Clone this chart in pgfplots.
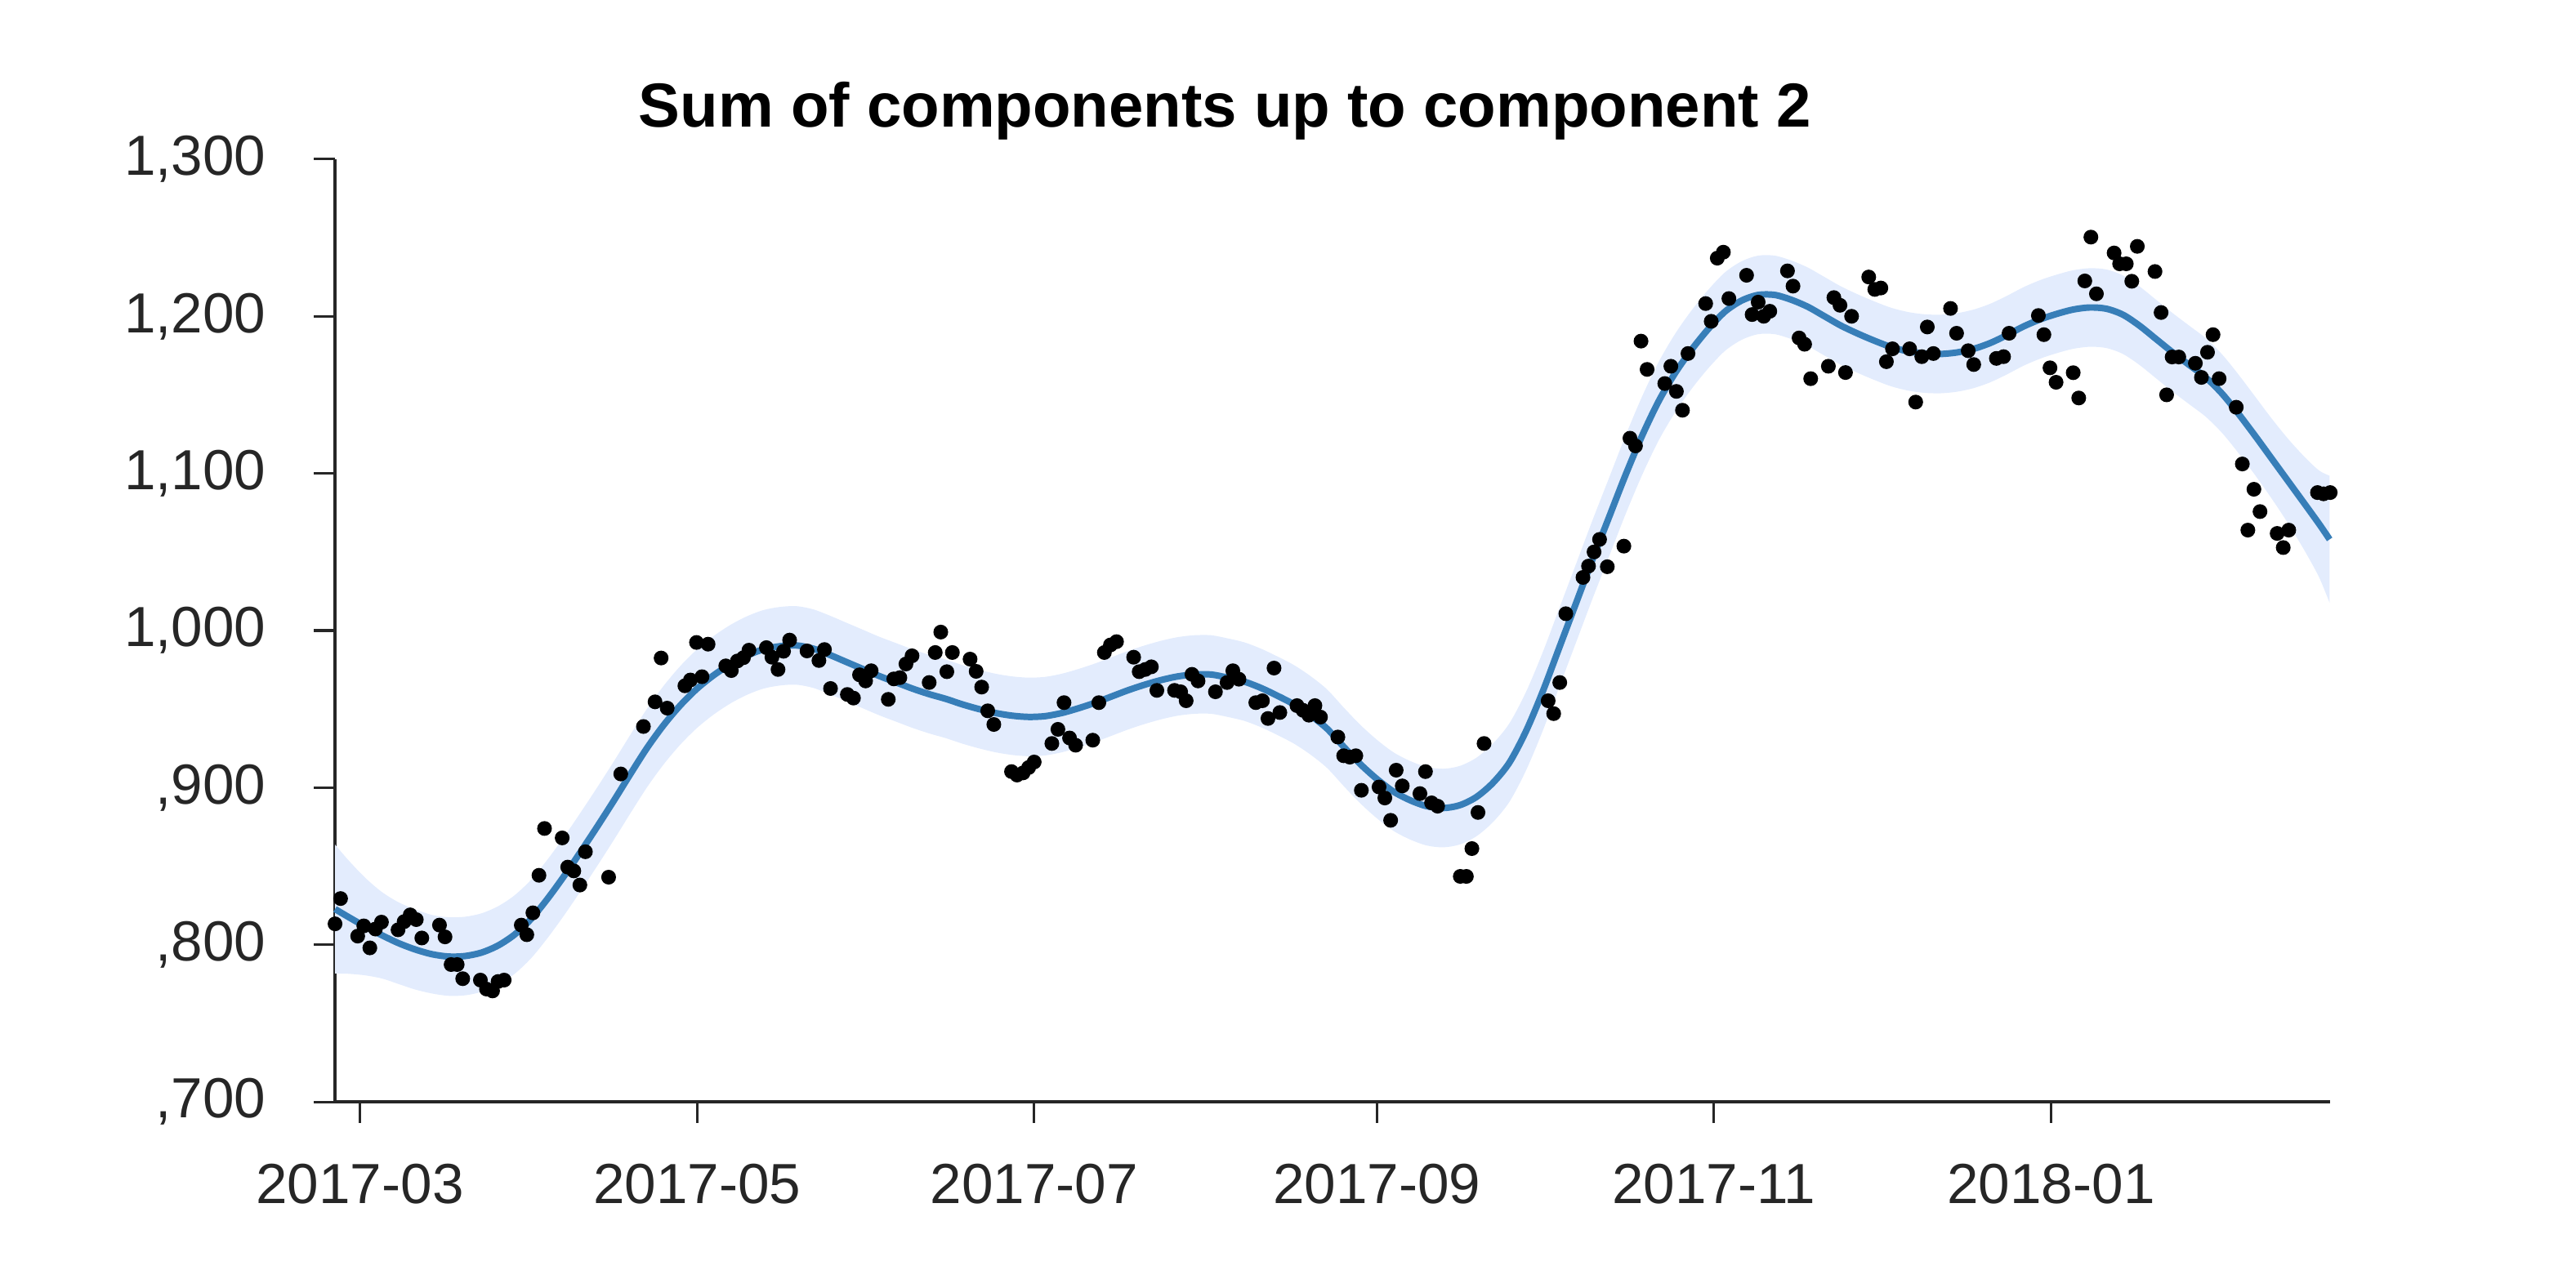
\documentclass[border=0pt]{standalone}
\usepackage{fontspec}
\setmainfont{Liberation Sans}
\usepackage{pgfplots}
\usepackage{pgfplotstable}
\pgfplotsset{compat=1.18}
\usepgfplotslibrary{fillbetween}
\definecolor{bandcol}{RGB}{227,236,253}
\definecolor{linecol}{RGB}{55,126,184}
\definecolor{txt}{RGB}{38,38,38}

\pgfplotstableread{
d yhat lo up
54.5 822.7 781.7 863.7
57 817.5 781.5 853.5
60 811.5 780.5 842.5
63 806 778.5 833.5
66 801 775 827
69 797 771.5 822.5
72 794 769 819
75 792.5 767.5 817.5
78 792.8 767.8 817.8
81 795 770 820
84 799.5 774.5 824.5
87 806.5 781.5 831.5
90 816.5 791.5 841.5
93 829.5 804.5 854.5
96 844 819 869
99 859.5 834.5 884.5
102 875.5 850.5 900.5
105 892 867 917
108 909 884 934
111 925.5 900.5 950.5
114 940 915 965
117 952.5 927.5 977.5
120 963 938 988
123 971.5 946.5 996.5
126 978.5 953.5 1003.5
129 984 959 1009
132 988 963 1013
135 990 965 1015
138 990.5 965.5 1015.5
141 988.5 963.5 1013.5
144 984.5 959.5 1009.5
147 980 955 1005
150 975.5 950.5 1000.5
153 971 946 996
156 967 942 992
159 963 938 988
162 959.5 934.5 984.5
165 956.5 931.5 981.5
168 953 928 978
171 950 925 975
174 947.5 922.5 972.5
177 945.8 920.8 970.8
180 945 920 970
183 945.5 920.5 970.5
186 947.5 922.5 972.5
189 950.5 925.5 975.5
192 954 929 979
195 958 933 983
198 962 937 987
201 965.5 940.5 990.5
204 968.5 943.5 993.5
207 970.8 945.8 995.8
210 972 947 997
213 972 947 997
216 970 945 995
219 967.5 942.5 992.5
222 963.5 938.5 988.5
225 958.5 933.5 983.5
228 953 928 978
231 946 921 971
234 937.5 912.5 962.5
237 926 901 951
240 915 890 940
243 905.5 880.5 930.5
246 897.5 872.5 922.5
249 892 867 917
252 888.2 863.2 913.2
255 887 862 912
258 888.8 863.8 913.8
261 894 869 919
264 903 878 928
267 916 891 941
270 936 911 961
273 961 936 986
276 989 964 1014
279 1017 992 1042
282 1045 1020 1070
285 1072 1047 1097
288 1099 1074 1124
291 1124 1099 1149
294 1146 1121 1171
297 1164 1139 1189
300 1179 1154 1204
303 1192 1167 1217
306 1203 1178 1228
309 1210 1185 1235
312 1213.6 1188.6 1238.6
315 1213.6 1188.6 1238.6
318 1210.5 1185.5 1235.5
321 1206 1181 1231
324 1200 1175 1225
327 1194 1169 1219
330 1189 1164 1214
333 1184.5 1159.5 1209.5
336 1180.5 1155.5 1205.5
339 1177.8 1152.8 1202.8
342 1176.3 1151.3 1201.3
345 1176 1151 1201
348 1177 1152 1202
351 1179.3 1154.3 1204.3
354 1183 1158 1208
357 1188 1163 1213
360 1193.5 1168.5 1218.5
363 1198 1173 1223
366 1201.5 1176.5 1226.5
369 1204.3 1179.3 1229.3
372 1205.6 1180.6 1230.6
375 1204.8 1179.8 1229.8
378 1201 1176 1226
381 1194 1169 1219
384 1185.5 1160.5 1210.5
387 1177 1152 1202
390 1169 1144 1194
393 1161 1136 1186
396 1150.5 1125.5 1175.5
399 1137.5 1112.5 1162.5
402 1123.5 1098.5 1148.5
405 1109 1083.5 1134.5
408 1094.5 1067.5 1121.5
411 1080 1050 1110
413.5 1067.8 1033.8 1101.8
415.4 1058 1017.5 1098.5
}\trend

\pgfplotstableread{
d v
54.5 813.3
55.5 829.4
58.6 805.5
59.7 812.0
60.8 798.0
61.8 810.0
62.9 814.4
65.9 809.5
67.0 814.7
68.1 819.0
69.2 816.0
70.2 804.3
73.4 812.5
74.4 805.0
75.5 787.4
76.6 787.4
77.6 778.4
80.8 777.5
81.9 771.8
83.0 770.6
84.0 776.6
85.1 777.5
88.2 812.5
89.2 806.4
90.3 820.3
91.4 844.2
92.4 874.0
95.6 868.0
96.6 849.4
97.7 847.0
98.8 838.0
99.8 859.2
104.0 843.0
106.2 908.7
110.3 938.9
112.4 954.6
113.5 982.5
114.6 950.6
117.8 964.8
118.8 968.5
119.9 992.4
120.9 970.6
122.0 991.3
125.2 977.5
126.2 974.5
127.3 980.6
128.4 982.7
129.4 987.5
132.55 989.1
133.55 983.0
134.65 975.2
135.65 986.8
136.75 993.9
139.9 987.0
142.05 980.9
143.05 987.9
144.15 963.1
147.2 959.3
148.3 957.0
149.4 971.8
150.5 967.9
151.5 974.4
154.6 956.2
155.6 969.2
156.7 970.0
157.8 978.7
158.9 983.9
162.0 966.9
163.1 986.0
164.1 999.0
165.2 973.8
166.2 986.0
169.4 981.8
170.5 974.0
171.5 964.0
172.6 948.9
173.7 940.2
176.9 910.2
177.9 908.0
179.0 909.4
180.0 912.8
181.0 916.3
184.2 928.1
185.3 937.1
186.4 954.1
187.4 931.6
188.5 927.0
191.6 930.2
192.7 954.1
193.7 986.0
194.8 990.8
195.9 992.9
199.0 983.0
200.0 973.8
201.1 975.2
202.2 976.9
203.2 961.9
206.4 961.9
207.5 961.0
208.5 955.3
209.55 972.1
210.65 967.9
213.8 961.0
215.9 966.9
216.95 974.4
218.05 969.0
221.1 954.1
222.3 955.3
223.3 944.0
224.4 976.1
225.45 947.8
228.55 952.2
229.65 949.2
230.7 946.1
231.8 952.2
232.8 944.9
235.95 932.2
237.0 920.3
238.1 919.4
239.2 920.3
240.2 898.3
243.4 900.4
244.45 893.4
245.5 879.2
246.5 911.1
247.6 901.1
250.8 896.2
251.8 910.2
252.9 890.3
254.0 888.2
258.1 843.5
259.2 843.5
260.2 861.2
261.3 884.2
262.4 928.1
274.0 955.3
275.0 947.1
276.1 966.9
277.2 1010.7
280.3 1033.8
281.3 1041.0
282.3 1050.0
283.3 1058.0
284.7 1040.6
287.7 1053.7
288.8 1122.4
289.8 1117.5
290.8 1184.2
291.9 1166.2
295.1 1157.2
296.2 1168.2
297.2 1152.2
298.3 1140.2
299.3 1176.3
302.5 1208.1
303.5 1196.8
304.6 1237.0
305.7 1240.8
306.7 1211.3
309.9 1226.1
310.9 1201.1
312.0 1209.0
313.0 1200.0
314.1 1203.2
317.3 1228.9
318.3 1219.2
319.4 1186.2
320.4 1182.2
321.5 1160.3
324.7 1168.2
325.7 1211.9
326.8 1207.0
327.8 1164.2
328.9 1200.0
332.0 1225.0
333.1 1217.1
334.2 1218.0
335.2 1171.1
336.3 1179.3
339.4 1179.3
340.5 1145.4
341.6 1174.3
342.6 1193.2
343.7 1176.3
346.8 1205.0
347.9 1189.2
350.0 1178.1
351.0 1169.3
355.1 1173.2
356.4 1174.3
357.4 1189.2
362.7 1200.5
363.7 1188.3
364.8 1167.2
365.9 1158.0
369.0 1164.1
370.0 1148.0
371.1 1222.5
372.2 1250.4
373.2 1214.3
376.4 1240.3
377.4 1233.4
378.6 1233.4
379.6 1222.3
380.6 1244.5
383.8 1228.5
384.9 1202.4
385.9 1150.0
386.9 1174.1
388.1 1174.1
391.1 1170.1
392.2 1161.1
393.3 1177.1
394.3 1188.3
395.4 1160.3
398.5 1142.1
399.6 1106.0
400.6 1063.9
401.7 1089.9
402.8 1075.7
405.9 1061.8
407.0 1052.8
408.0 1063.9
413.2 1087.8
414.3 1087.0
415.5 1087.8
}\obs

\begin{document}
\begin{tikzpicture}
\begin{axis}[
  at={(0,0)}, anchor=south west,
  scale only axis,
  width=12.392cm, height=5.857cm,
  xmin=54.5, xmax=415.5,
  ymin=700, ymax=1300,
  axis x line*=bottom, axis y line*=left,
  axis line style={-, draw=txt, line width=0.6pt},
  tick align=outside,
  major tick length=0.13cm,
  tick style={draw=txt, line width=0.45pt},
  xtick={59,120,181,243,304,365},
  xticklabels={2017-03,2017-05,2017-07,2017-09,2017-11,2018-01},
  ytick={700,800,900,1000,1100,1200,1300},
  yticklabels={{,700},{,800},{,900},{1,000},{1,100},{1,200},{1,300}},
  /pgf/number format/assume math mode=true,
  ticklabel style={font=\fontsize{10}{12}\selectfont, text=txt},
  xticklabel style={yshift=-0.134cm},
  yticklabel style={xshift=-0.175cm},
  clip=false,
]
\addplot[name path=up, draw=none, smooth] table[x=d, y=up] {\trend};
\addplot[name path=lo, draw=none, smooth] table[x=d, y=lo] {\trend};
\addplot[fill=bandcol, draw=none] fill between[of=up and lo];
\addplot[linecol, line width=1.15pt, smooth] table[x=d, y=yhat] {\trend};
\addplot[only marks, mark=*, mark size=1.1pt, black] table[x=d, y=v] {\obs};
\node[anchor=base, font=\bfseries\fontsize{11}{13}\selectfont, text=black] at ([yshift=0.2cm]rel axis cs:0.446,1) {Sum of components up to component 2};
\end{axis}
\pgfresetboundingbox
\useasboundingbox (-2.081cm,-1.154cm) rectangle (13.919cm,6.846cm);
\end{tikzpicture}
\end{document}
